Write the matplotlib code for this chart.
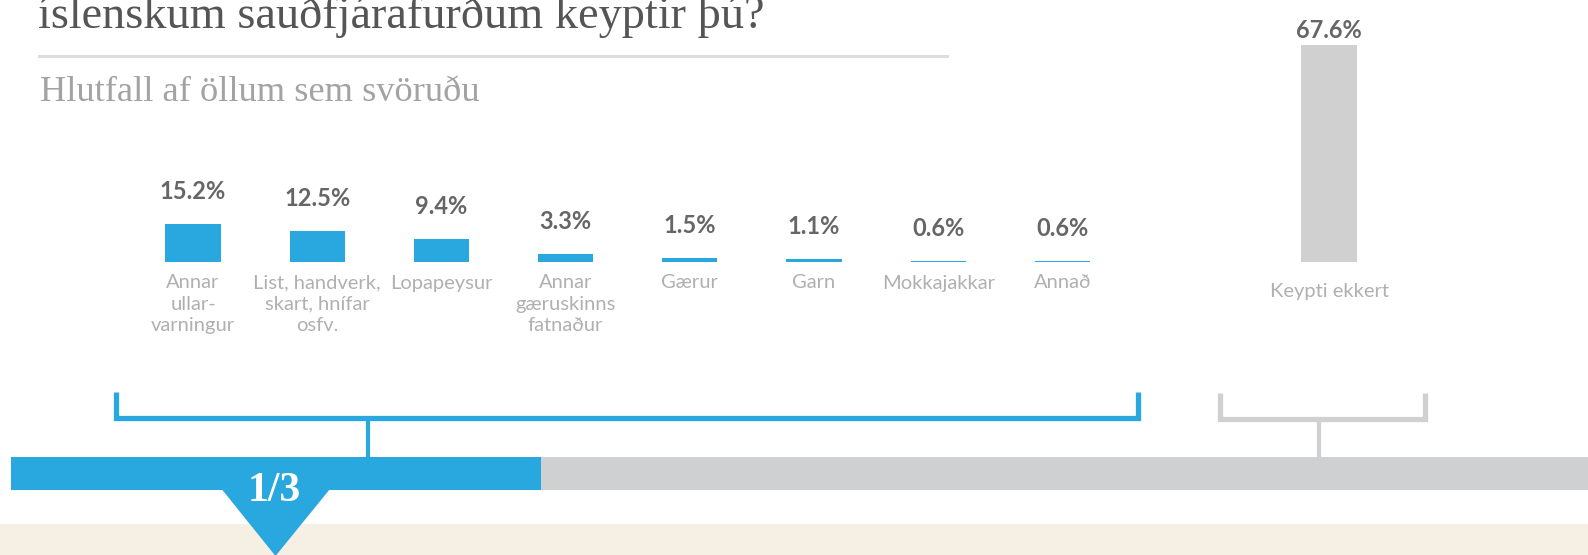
import matplotlib.pyplot as plt
from matplotlib.patches import Polygon, Rectangle

W, H = 1588, 555
DPI = 100

# gögn
flokkar = ["Annar\nullar-\nvarningur", "List, handverk,\nskart, hnífar\nosfv.", "Lopapeysur",
           "Annar\ngæruskinns\nfatnaður", "Gærur", "Garn", "Mokkajakkar", "Annað"]
hlutfall = [15.2, 12.5, 9.4, 3.3, 1.5, 1.1, 0.6, 0.6]
ekkert_flokkur = ["Keypti ekkert"]
ekkert_hlutfall = [67.6]
skipting = [32.4, 67.6]  # keyptu eitthvað / keyptu ekkert

titill = "íslenskum sauðfjárafurðum keyptir þú?"
undirtitill = "Hlutfall af öllum sem svöruðu"

BLUE = "#29a8e0"
GREY = "#d0d0d0"
BAND_GREY = "#cfd0d2"
BEIGE = "#f6efe3"
LABEL = "#b0b0b0"
SANS = "Lato"
SERIF = "Liberation Serif"

fig = plt.figure(figsize=(W / DPI, H / DPI), dpi=DPI)


def px_axes(left, bottom, width, height):
    # pixel box, bottom measured from the top edge of the image
    return fig.add_axes([left / W, (H - bottom) / H, width / W, height / H])


def hreinsa(ax):
    for s in ax.spines.values():
        s.set_visible(False)
    ax.set_yticks([])
    ax.patch.set_alpha(0)


# blue bars
ax = px_axes(130.9, 262, 993.6, 200)
ax.bar(range(len(hlutfall)), hlutfall, width=0.443, color=BLUE)
ax.set_xlim(-0.5, len(hlutfall) - 0.5)
ax.set_ylim(0, 80)
ax.set_xticks(range(len(flokkar)), flokkar, fontsize=14.5, color=LABEL,
              family=SANS, linespacing=1.3, va="top")
ax.tick_params(axis="x", length=0, pad=9)
hreinsa(ax)
for i, v in enumerate(hlutfall):
    ax.annotate(f"{v:.1f}%", (i, v), xytext=(0, 18), textcoords="offset points",
                ha="center", va="baseline", fontsize=17, fontweight="bold",
                color="#666666", family=SANS)

# grey bar
ax2 = px_axes(1266.9, 262, 124.2, 230)
ax2.bar(range(1), ekkert_hlutfall, width=0.443, color=GREY)
ax2.set_xlim(-0.5, 0.5)
ax2.set_ylim(0, 230 / 3.206)
ax2.set_xticks(range(1), ekkert_flokkur, fontsize=14.5, color=LABEL, family=SANS)
ax2.tick_params(axis="x", length=0, pad=15)
hreinsa(ax2)
for i, v in enumerate(ekkert_hlutfall):
    ax2.annotate(f"{v:.1f}%", (i, v), xytext=(0, 5), textcoords="offset points",
                 ha="center", va="baseline", fontsize=17, fontweight="bold",
                 color="#666666", family=SANS)

# split band
ax3 = px_axes(11, 490, 1577, 33)
ax3.barh([0], [skipting[0]], left=0, height=1, color=BLUE)
ax3.barh([0], [skipting[1]], left=skipting[0], height=1, color=BAND_GREY)
ax3.set_xlim(0, 1577 / (530 / skipting[0]))
ax3.set_ylim(-0.5, 0.5)
ax3.axis("off")

# decorations in pixel coordinates
ov = fig.add_axes([0, 0, 1, 1], zorder=5)
ov.set_xlim(0, W)
ov.set_ylim(H, 0)
ov.axis("off")
ov.add_patch(Rectangle((0, 524), W, H - 524, color=BEIGE, lw=0, zorder=1))
ov.add_patch(Polygon([(220, 487), (331.6, 487), (275.5, 556)], closed=True,
                     color=BLUE, lw=0, zorder=2))
ov.text(274, 491, "1/3", ha="center", va="center", family=SERIF, weight="bold",
        size=30, color="white", zorder=3)

ov.plot([116, 116, 1138, 1138], [392, 418, 418, 392], color=BLUE, lw=3.8,
        solid_joinstyle="miter", solid_capstyle="butt")
ov.plot([368, 368], [418, 457], color=BLUE, lw=3, solid_capstyle="butt")
ov.plot([1219.5, 1219.5, 1424.5, 1424.5], [393, 419, 419, 393], color=GREY, lw=3.8,
        solid_joinstyle="miter", solid_capstyle="butt")
ov.plot([1319, 1319], [419, 457], color=GREY, lw=3, solid_capstyle="butt")

ov.plot([38.5, 947], [55.7, 55.7], color="#dddddd", lw=2.2)
# the reference shows only the lower part of this title line
ov.text(38.5, 28.5, titill, family=SERIF, size=33.3, color="#555555", va="baseline")
ov.text(40.5, 101, undirtitill, family=SERIF, size=26.2, color="#a3a3a3", va="baseline")

fig.savefig("out.png", dpi=DPI)
